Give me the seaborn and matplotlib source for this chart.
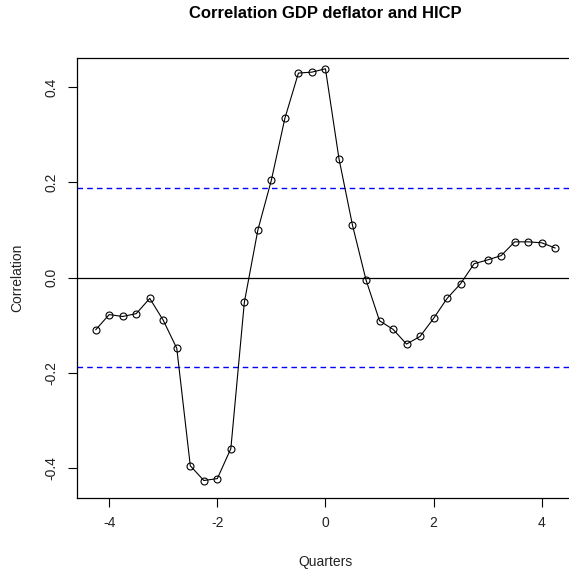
import matplotlib
matplotlib.use("Agg")
import matplotlib.pyplot as plt
import seaborn as sns
import pandas as pd
import numpy as np

lags = [-4.25, -4.0, -3.75, -3.5, -3.25, -3.0, -2.75, -2.5, -2.25, -2.0, -1.75, -1.5,
        -1.25, -1.0, -0.75, -0.5, -0.25, 0.0, 0.25, 0.5, 0.75, 1.0, 1.25, 1.5, 1.75,
        2.0, 2.25, 2.5, 2.75, 3.0, 3.25, 3.5, 3.75, 4.0, 4.25]
corr = [-0.110, -0.078, -0.082, -0.076, -0.044, -0.090, -0.149, -0.396, -0.427, -0.423,
        -0.360, -0.052, 0.100, 0.205, 0.335, 0.430, 0.432, 0.439, 0.250, 0.110, -0.005,
        -0.091, -0.109, -0.140, -0.124, -0.086, -0.044, -0.013, 0.029, 0.037, 0.046,
        0.075, 0.075, 0.073, 0.062]
conf = 0.189
xticks = [-4, -2, 0, 2, 4]
yticks = [-0.4, -0.2, 0.0, 0.2, 0.4]

df = pd.DataFrame({"Quarters": lags, "Correlation": corr})

sns.set_theme(style="white")
plt.rcParams['font.family'] = ['Liberation Sans', 'DejaVu Sans']

fig = plt.figure(figsize=(5.69, 5.71), dpi=100)
ax = fig.add_axes([77.3 / 569, 1 - 498 / 571, 496.3 / 569, (498 - 58) / 571])

ax.axhline(0, color="black", lw=0.9)
ax.axhline(conf, color="blue", lw=1.0, ls=(0, (4, 3)))
ax.axhline(-conf, color="blue", lw=1.0, ls=(0, (4, 3)))

sns.lineplot(data=df, x="Quarters", y="Correlation", ax=ax, color="black", lw=0.8,
             marker="o", markersize=5, markerfacecolor="none", markeredgecolor="black",
             markeredgewidth=0.8)

ax.set_xlim(-4.59, 4.59)
ax.set_ylim(-0.4638, 0.4617)
ax.set_xticks(xticks)
ax.set_xticklabels([str(t) for t in xticks])
ax.set_yticks(yticks)
ax.set_yticklabels([f"{t:.1f}" for t in yticks], rotation=90, va="center")

for s in ax.spines.values():
    s.set_color("black")
    s.set_linewidth(0.9)

ax.tick_params(axis="both", which="both", direction="out", length=6.3, width=0.8,
               color="black", labelsize=10, labelcolor="#222222", pad=7,
               bottom=True, left=True, top=False, right=False)

ax.set_xlabel("Quarters", fontsize=10, color="#222222", labelpad=18)
ax.set_ylabel("Correlation", fontsize=10, color="#222222", labelpad=15)
fig.text(325 / 569, 1 - 13 / 571, "Correlation GDP deflator and HICP", ha="center",
         va="center", fontsize=12, fontweight="bold", color="black")

fig.savefig("out.png", dpi=100)
